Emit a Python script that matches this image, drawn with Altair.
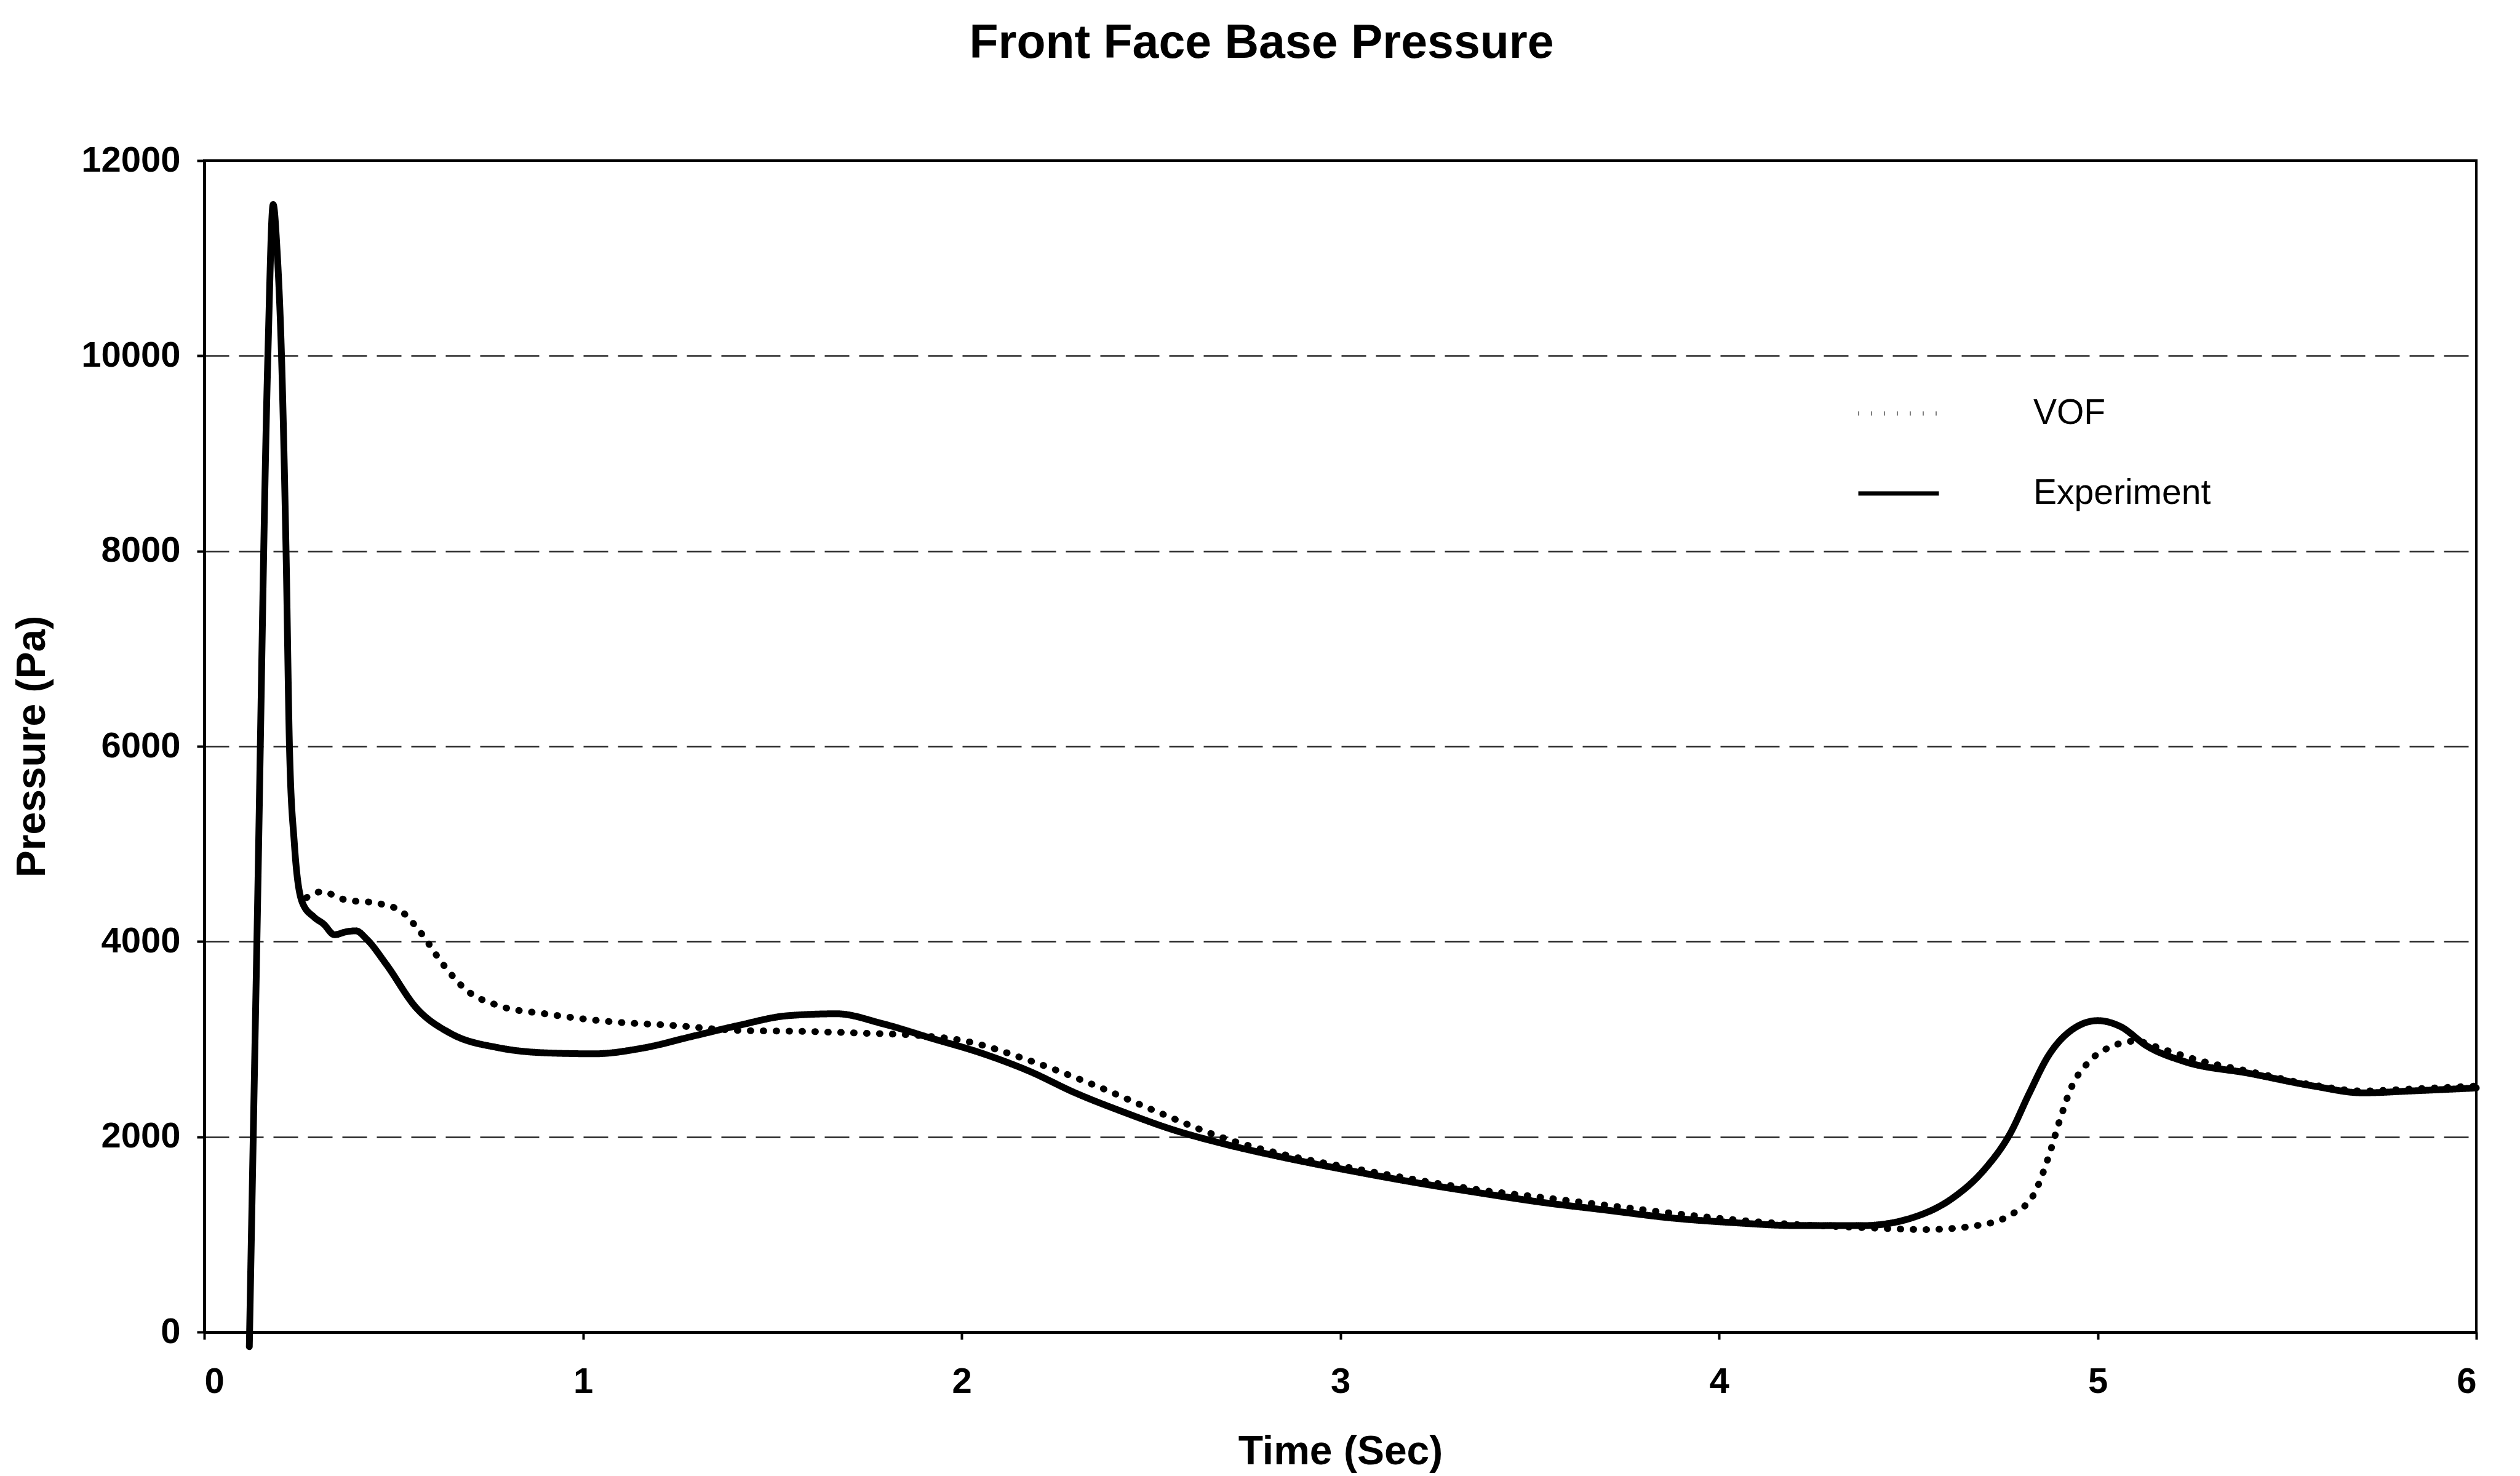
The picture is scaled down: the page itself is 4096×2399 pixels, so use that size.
import altair as alt
import pandas as pd

# ---- data ----
exp_t = [0.119, 0.139, 0.168, 0.182, 0.192, 0.204, 0.216, 0.225, 0.238, 0.259,
         0.29, 0.315, 0.344, 0.375, 0.40, 0.43, 0.48, 0.56, 0.65, 0.78,
         0.90, 1.03, 1.16, 1.29, 1.41, 1.54, 1.67, 1.79, 1.92, 2.05,
         2.18, 2.30, 2.43, 2.56, 2.69, 2.86, 3.03, 3.20, 3.36, 3.53,
         3.70, 3.87, 4.04, 4.21, 4.38, 4.51, 4.62, 4.70, 4.77, 4.82,
         4.87, 4.93, 5.00, 5.06, 5.13, 5.23, 5.40, 5.57, 5.70, 5.83, 6.0]
exp_p = [-150, 4000, 10000, 11550, 11100, 10000, 8000, 6000, 5000, 4400,
         4250, 4180, 4070, 4100, 4110, 4020, 3770, 3320, 3060, 2910,
         2860, 2850, 2910, 3030, 3140, 3240, 3260, 3160, 3010, 2860,
         2670, 2450, 2250, 2070, 1930, 1780, 1650, 1530, 1430, 1330,
         1250, 1170, 1120, 1090, 1090, 1170, 1380, 1660, 2040, 2450,
         2830, 3090, 3190, 3130, 2930, 2770, 2650, 2520, 2450, 2470, 2500]

vof_t = [0.27, 0.31, 0.37, 0.46, 0.52, 0.57, 0.63, 0.69, 0.78, 0.90,
         1.07, 1.24, 1.41, 1.58, 1.75, 1.88, 2.01, 2.18, 2.35, 2.52,
         2.69, 2.86, 3.03, 3.20, 3.36, 3.53, 3.70, 3.87, 4.04, 4.21,
         4.38, 4.55, 4.68, 4.77, 4.83, 4.87, 4.90, 4.93, 4.98, 5.04,
         5.10, 5.17, 5.27, 5.40, 5.57, 5.70, 5.83, 6.0]
vof_p = [4450, 4510, 4430, 4390, 4310, 4100, 3770, 3510, 3340, 3260,
         3180, 3140, 3090, 3080, 3060, 3040, 2980, 2780, 2530, 2250,
         1990, 1810, 1680, 1560, 1460, 1380, 1300, 1220, 1150, 1100,
         1070, 1050, 1090, 1200, 1400, 1790, 2170, 2500, 2780, 2930,
         2980, 2900, 2780, 2670, 2530, 2470, 2490, 2520]

series_names = ["VOF", "Experiment"]
x_ticks = [0, 1, 2, 3, 4, 5, 6]
y_ticks = [0, 2000, 4000, 6000, 8000, 10000, 12000]

df = pd.concat([
    pd.DataFrame({"t": vof_t, "p": vof_p, "series": series_names[0]}),
    pd.DataFrame({"t": exp_t, "p": exp_p, "series": series_names[1]}),
], ignore_index=True)

FONT = "Liberation Sans"
W, H = 3693, 1904

chart = alt.Chart(df).mark_line(
    interpolate="monotone", strokeWidth=11, strokeCap="round",
    strokeJoin="round", color="black", clip=False
).encode(
    x=alt.X("t:Q",
            scale=alt.Scale(domain=[0, 6], nice=False, zero=False),
            axis=alt.Axis(values=x_ticks, format="d", title="Time (Sec)",
                          grid=False, labelFontSize=58, labelFont=FONT,
                          labelFontWeight="bold", labelPadding=40,
                          tickSize=12, tickWidth=4, tickColor="black",
                          domainColor="black", domainWidth=5,
                          labelColor="black",
                          titleFont=FONT, titleFontSize=66,
                          titleFontWeight="bold", titleColor="black",
                          titleX=W / 2, titleY=194, titleBaseline="middle",
                          titleAlign="center")),
    y=alt.Y("p:Q",
            scale=alt.Scale(domain=[0, 12000], nice=False),
            axis=alt.Axis(values=y_ticks, format="d", title="Pressure (Pa)",
                          grid=True, gridColor="black", gridWidth=2.5,
                          gridDash=[40, 16], gridOpacity=0.85,
                          labelFontSize=58, labelFont=FONT,
                          labelFontWeight="bold", labelPadding=27,
                          labelColor="black",
                          tickSize=12, tickWidth=4, tickColor="black",
                          domainColor="black", domainWidth=5,
                          titleFont=FONT, titleFontSize=66,
                          titleFontWeight="bold", titleColor="black",
                          titleAngle=-90, titleX=-280, titleY=H / 2,
                          titleBaseline="middle", titleAlign="center")),
    strokeDash=alt.StrokeDash(
        "series:N",
        scale=alt.Scale(domain=series_names, range=[[1, 20], [1, 0]]),
        legend=alt.Legend(title=None, orient="none", legendX=2685,
                          legendY=342, symbolType="stroke",
                          symbolSize=17161, symbolStrokeWidth=7,
                          symbolStrokeColor="black",
                          labelFont=FONT, labelFontSize=57,
                          labelColor="black", labelOffset=150,
                          labelLimit=800,
                          rowPadding=33, padding=0)),
).properties(
    width=W, height=H,
    title=alt.Title("Front Face Base Pressure", font=FONT, fontSize=77,
                    fontWeight="bold", color="black", anchor="middle",
                    frame="group", baseline="middle", offset=84, dx=-128),
    autosize=alt.AutoSizeParams(type="none"),
    padding={"left": 332, "top": 261, "right": 71, "bottom": 234},
    background="white",
).configure_view(stroke="black", strokeWidth=4)

chart.save("out.html", embed_options={"renderer": "svg", "actions": False})
